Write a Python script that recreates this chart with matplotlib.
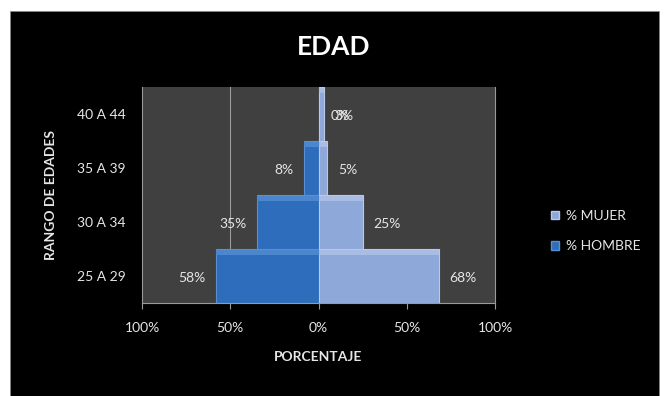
import matplotlib.pyplot as plt
import matplotlib.patches as mpatches
import numpy as np

rangos = ['25 A 29', '30 A 34', '35 A 39', '40 A 44']
mujer = [68, 25, 5, 3]
hombre = [58, 35, 8, 0]
ticks = [-100, -50, 0, 50, 100]
tick_labels = ['100%', '50%', '0%', '50%', '100%']

col_mujer = '#8EA8D9'
col_hombre = '#2E6DBC'
txt = '#E6E6E6'
plt.rcParams['font.family'] = ['Lato', 'DejaVu Sans']

fig = plt.figure(figsize=(6.65, 3.96), dpi=100, facecolor='white')
# black chart area inside a thin white border
fig.patches.append(mpatches.Rectangle((10 / 665, 0), 649 / 665, 385 / 396,
                                      transform=fig.transFigure, facecolor='black',
                                      edgecolor='#888888', lw=0.5, zorder=-10))

ax = fig.add_axes([142 / 665, 1 - 303 / 396, 353 / 665, 216 / 396])
ax.set_zorder(1)
ax.set_facecolor('#404040')

y = np.arange(len(rangos))
neg_h = -np.array(hombre)
ax.axvline(-50, color='#9A9A9A', lw=0.8, zorder=1)
ax.barh(y, neg_h, height=1.0, color=col_hombre, edgecolor='#5B8FD0', lw=0.8, zorder=2)
ax.barh(y, mujer, height=1.0, color=col_mujer, edgecolor='#B8C9EA', lw=0.8, zorder=2)
# top highlight strip for a bevelled look
ax.barh(y + 0.43, neg_h, height=0.1, color='#4C86CC', lw=0, zorder=3)
ax.barh(y + 0.43, mujer, height=0.1, color='#A9BDE4', lw=0, zorder=3)

for i in range(len(rangos)):
    ax.text(mujer[i] + 6, y[i] - 0.04, f'{mujer[i]}%', color=txt, fontsize=10,
            ha='left', va='center', zorder=4)
    if hombre[i] > 0:
        ax.text(-hombre[i] - 6, y[i] - 0.04, f'{hombre[i]}%', color=txt, fontsize=10,
                ha='right', va='center', zorder=4)
    else:
        ax.text(7, y[i] - 0.04, f'{hombre[i]}%', color=txt, fontsize=10,
                ha='left', va='center', zorder=4)

ax.set_xlim(-100, 100)
ax.set_ylim(-0.5, 3.5)
ax.set_xticks(ticks)
ax.set_xticklabels(tick_labels)
ax.set_yticks(y)
ax.set_yticklabels(rangos)
ax.tick_params(axis='x', colors='#9A9A9A', labelcolor=txt, labelsize=10, length=4, pad=10)
ax.tick_params(axis='y', length=0, labelcolor=txt, labelsize=10, pad=12)
ax.spines['top'].set_visible(False)
for s in ['left', 'right', 'bottom']:
    ax.spines[s].set_color('#9A9A9A')
    ax.spines[s].set_linewidth(0.8)

ax.set_xlabel('PORCENTAJE', color=txt, fontsize=10, fontweight='bold', labelpad=12)
ax.set_ylabel('RANGO DE EDADES', color=txt, fontsize=10, fontweight='bold', labelpad=14)
fig.text(334 / 665, 1 - 47 / 396, 'EDAD', color='white', fontsize=19,
         fontweight='bold', ha='center', va='center')

handles = [mpatches.Patch(facecolor=col_mujer, edgecolor='#B8C9EA'),
           mpatches.Patch(facecolor=col_hombre, edgecolor='#5B8FD0')]
leg = fig.legend(handles, ['% MUJER', '% HOMBRE'], loc='center left',
                 bbox_to_anchor=(538 / 665, 1 - 231 / 396), frameon=False,
                 fontsize=10, labelcolor=txt, handlelength=0.6, handleheight=0.6,
                 handletextpad=0.5, labelspacing=1.3)

fig.savefig('out.png', dpi=100, facecolor=fig.get_facecolor())
